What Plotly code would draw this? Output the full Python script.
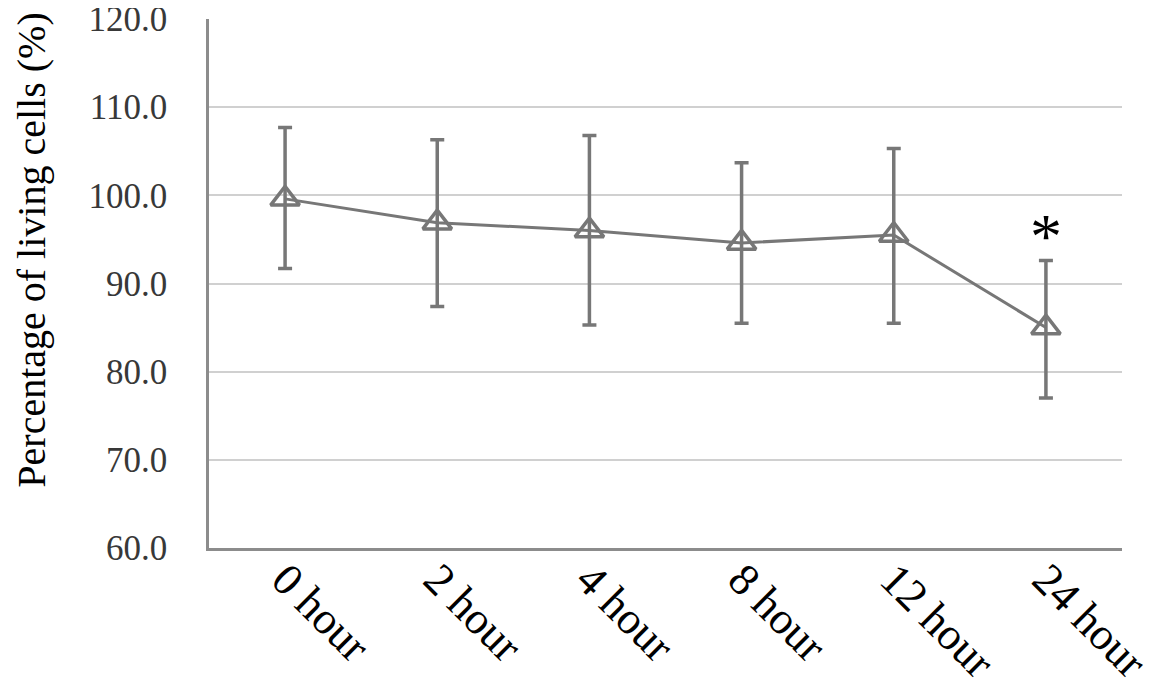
import plotly.graph_objects as go

# data
tiempos = ["0 hour", "2 hour", "4 hour", "8 hour", "12 hour", "24 hour"]
vivas = [99.6, 96.9, 96.0, 94.6, 95.5, 85.0]
error_sup = [8.1, 9.4, 10.8, 9.1, 9.8, 7.6]
error_inf = [7.9, 9.5, 10.7, 9.1, 10.0, 8.0]

# asterisk (significance) over the last point
marca_x = "24 hour"
marca_y = 95.3

gris = "#777777"
fuente = "Liberation Serif"

fig = go.Figure()
fig.add_trace(go.Scatter(
    x=tiempos,
    y=vivas,
    mode="lines+markers",
    line=dict(color=gris, width=3),
    marker=dict(symbol="triangle-up-open", size=25, color=gris, line=dict(width=3.5, color=gris)),
    error_y=dict(
        type="data",
        symmetric=False,
        array=error_sup,
        arrayminus=error_inf,
        color=gris,
        thickness=3.5,
        width=7,
    ),
    showlegend=False,
))

fig.add_annotation(
    x=marca_x, y=marca_y, text="*", showarrow=False,
    font=dict(family=fuente, size=64, color="black"),
)

# y title as annotation (it sits above the centre of the plot in the reference)
fig.add_annotation(
    text="Percentage of living cells (%)",
    xref="paper", yref="paper", x=0, y=0.563,
    xshift=-201, textangle=-90, showarrow=False, borderpad=0,
    font=dict(size=40, family=fuente, color="black"),
)

fig.update_layout(
    width=1166,
    height=700,
    margin=dict(l=201, r=52, t=11, b=160),
    plot_bgcolor="white",
    paper_bgcolor="white",
    font=dict(family=fuente, color="#222222"),
)
fig.update_xaxes(
    type="category",
    range=[-0.5, len(tiempos) - 0.5],
    automargin=False,
    showline=True, linecolor="#8c8c8c", linewidth=2.5,
    showgrid=False,
    tickangle=45,
    ticklabelstandoff=-16,
    ticklabeloverflow="allow",
    tickfont=dict(size=45, family=fuente, color="black"),
    ticks="",
)
fig.update_yaxes(
    range=[60, 120],
    dtick=10,
    tickformat=".1f",
    automargin=False,
    showline=True, linecolor="#8c8c8c", linewidth=2.5,
    showgrid=True, gridcolor="#d0d0d0", gridwidth=2,
    zeroline=False,
    ticks="",
    ticklabelstandoff=32,
    ticklabeloverflow="allow",
    tickfont=dict(size=35, family=fuente, color="#383838"),
)

fig.write_html("out.html")
